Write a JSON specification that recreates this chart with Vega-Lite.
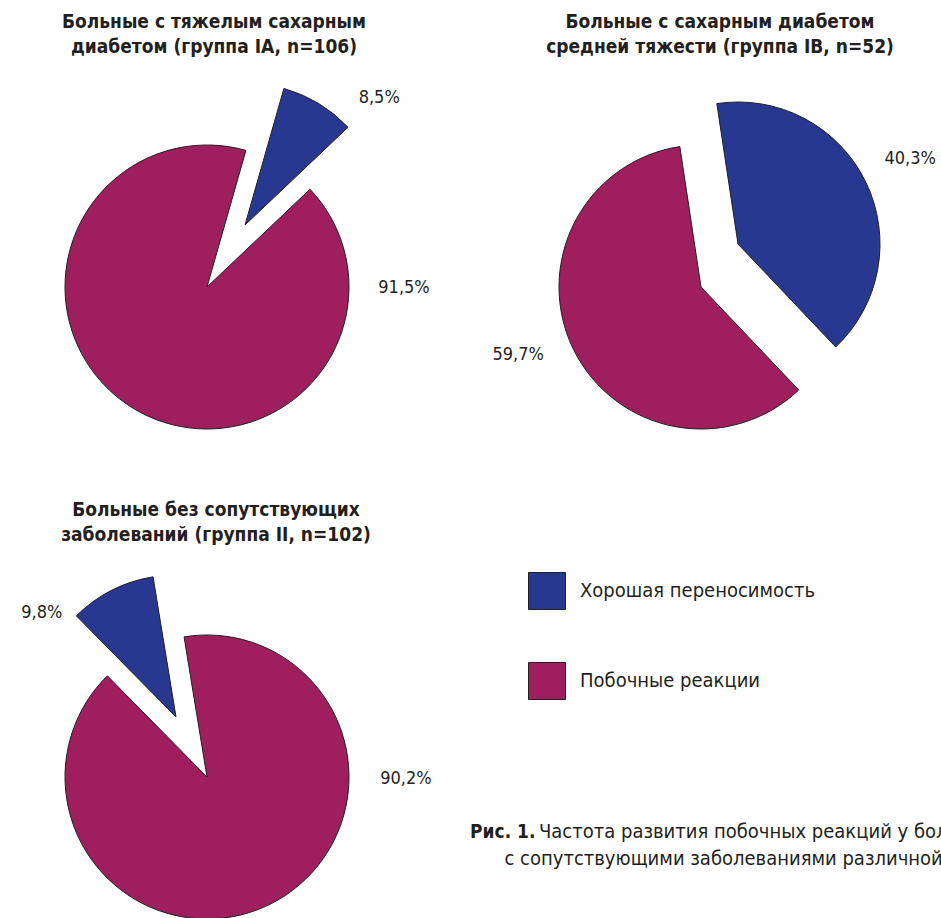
{
  "$schema": "https://vega.github.io/schema/vega-lite/v6.json",
  "padding": {"top": 13, "left": 0, "right": 0, "bottom": 0},
  "spacing": 10,
  "data": {"values": [
    {"group": "IA", "cat": "Хорошая переносимость", "value": 8.5},
    {"group": "IA", "cat": "Побочные реакции", "value": 91.5},
    {"group": "IB", "cat": "Хорошая переносимость", "value": 40.3},
    {"group": "IB", "cat": "Побочные реакции", "value": 59.7},
    {"group": "II", "cat": "Хорошая переносимость", "value": 9.8},
    {"group": "II", "cat": "Побочные реакции", "value": 90.2}
  ]},
  "vconcat": [
    {
      "spacing": 31,
      "hconcat": [
        {
          "width": 414, "height": 406,
          "title": {"text": ["Больные с тяжелым сахарным", "диабетом (группа IA, n=106)"], "dx": 7, "offset": 27},
          "transform": [
            {"filter": "datum.group === 'IA'"},
            {"stack": "value", "groupby": [], "sort": [{"field": "cat", "order": "ascending"}], "as": ["v0", "v1"]}
          ],
          "encoding": {
            "theta": {"field": "v0", "type": "quantitative", "scale": {"domain": [0, 100], "range": [0.8116, 7.0948]}}
          },
          "layer": [
            {
              "transform": [{"filter": "datum.cat === 'Побочные реакции'"}],
              "mark": {"type": "arc", "radius": 142, "stroke": "#231f20", "strokeWidth": 1},
              "encoding": {"theta2": {"field": "v1"}, "color": {"field": "cat", "type": "nominal", "scale": {"domain": ["Хорошая переносимость", "Побочные реакции"], "range": ["#283891", "#9f1e5d"]}, "legend": {"orient": "none", "legendX": 528, "legendY": 488, "title": null, "symbolType": "square", "symbolSize": 1369, "symbolStrokeColor": "#231f20", "symbolStrokeWidth": 1, "symbolOpacity": 1, "labelFontSize": 20, "labelFont": "DejaVu Sans Condensed", "labelColor": "#231f20", "labelOffset": 14, "rowPadding": 48, "padding": 0, "labelLimit": 400, "direction": "vertical"}}}
            },
            {
              "transform": [{"filter": "datum.cat === 'Хорошая переносимость'"}],
              "mark": {"type": "arc", "radius": 142, "stroke": "#231f20", "strokeWidth": 1, "xOffset": 38, "yOffset": -62},
              "encoding": {"theta2": {"field": "v1"}, "color": {"field": "cat", "type": "nominal"}}
            },
            {
              "transform": [{"filter": "datum.cat === 'Побочные реакции'"}],
              "mark": {"type": "text", "radius": 197, "thetaOffset": 0.764},
              "encoding": {"text": {"field": "value", "type": "quantitative", "format": "$.1f"}}
            },
            {
              "transform": [{"filter": "datum.cat === 'Хорошая переносимость'"}],
              "mark": {"type": "text", "radius": 185, "xOffset": 38, "yOffset": -62},
              "encoding": {"theta": {"field": "v1", "type": "quantitative"}, "text": {"field": "value", "type": "quantitative", "format": "$.1f"}}
            }
          ]
        },
        {
          "width": 480, "height": 406,
          "title": {"text": ["Больные с сахарным диабетом", "средней тяжести (группа IB, n=52)"], "dx": 19, "offset": 27},
          "transform": [
            {"filter": "datum.group === 'IB'"},
            {"stack": "value", "groupby": [], "sort": [{"field": "cat", "order": "ascending"}], "as": ["v0", "v1"]}
          ],
          "encoding": {
            "theta": {"field": "v0", "type": "quantitative", "scale": {"domain": [0, 100], "range": [2.3824, 8.6656]}}
          },
          "layer": [
            {
              "transform": [{"filter": "datum.cat === 'Побочные реакции'"}],
              "mark": {"type": "arc", "radius": 142, "stroke": "#231f20", "strokeWidth": 1},
              "encoding": {"theta2": {"field": "v1"}, "color": {"field": "cat", "type": "nominal"}}
            },
            {
              "transform": [{"filter": "datum.cat === 'Хорошая переносимость'"}],
              "mark": {"type": "arc", "radius": 142, "stroke": "#231f20", "strokeWidth": 1, "xOffset": 37, "yOffset": -43},
              "encoding": {"theta2": {"field": "v1"}, "color": {"field": "cat", "type": "nominal"}}
            },
            {
              "transform": [{"filter": "datum.cat === 'Побочные реакции'"}],
              "mark": {"type": "text", "radius": 195, "thetaOffset": 1.974},
              "encoding": {"text": {"field": "value", "type": "quantitative", "format": "$.1f"}}
            },
            {
              "transform": [{"filter": "datum.cat === 'Хорошая переносимость'"}],
              "mark": {"type": "text", "radius": 192, "thetaOffset": 1.262, "xOffset": 37, "yOffset": -43},
              "encoding": {"text": {"field": "value", "type": "quantitative", "format": "$.1f"}}
            }
          ]
        }
      ]
    },
    {
      "spacing": 29,
      "hconcat": [
        {
          "width": 414, "height": 284,
          "title": {"text": ["Больные без сопутствующих", "заболеваний (группа II, n=102)"], "dx": 9, "offset": 30},
          "transform": [
            {"filter": "datum.group === 'II'"},
            {"stack": "value", "groupby": [], "sort": [{"field": "cat", "order": "ascending"}], "as": ["v0", "v1"]}
          ],
          "encoding": {
            "theta": {"field": "v0", "type": "quantitative", "scale": {"domain": [0, 100], "range": [-0.1623, 6.1209]}}
          },
          "layer": [
            {
              "transform": [{"filter": "datum.cat === 'Побочные реакции'"}],
              "mark": {"type": "arc", "radius": 142, "stroke": "#231f20", "strokeWidth": 1},
              "encoding": {"theta2": {"field": "v1"}, "color": {"field": "cat", "type": "nominal"}}
            },
            {
              "transform": [{"filter": "datum.cat === 'Хорошая переносимость'"}],
              "mark": {"type": "arc", "radius": 142, "stroke": "#231f20", "strokeWidth": 1, "xOffset": -31, "yOffset": -60},
              "encoding": {"theta2": {"field": "v1"}, "color": {"field": "cat", "type": "nominal"}}
            },
            {
              "transform": [{"filter": "datum.cat === 'Побочные реакции'"}],
              "mark": {"type": "text", "radius": 199, "thetaOffset": 1.744},
              "encoding": {"text": {"field": "value", "type": "quantitative", "format": "$.1f"}}
            },
            {
              "transform": [{"filter": "datum.cat === 'Хорошая переносимость'"}],
              "mark": {"type": "text", "radius": 170, "thetaOffset": -0.131, "xOffset": -31, "yOffset": -60},
              "encoding": {"text": {"field": "value", "type": "quantitative", "format": "$.1f"}}
            }
          ]
        },
        {
          "width": 480, "height": 284,
          "data": {"values": [
            {"line": "1", "seg": "a", "text": "Рис. 1."},
            {"line": "1", "seg": "b", "text": "Частота развития побочных реакций у больных"},
            {"line": "2", "seg": "c", "text": "с сопутствующими заболеваниями различной"}
          ]},
          "encoding": {
            "x": {"field": "seg", "type": "nominal", "axis": null, "scale": {"type": "point", "domain": ["a", "c", "b"], "range": [9, 78], "padding": 0}},
            "y": {"field": "line", "type": "ordinal", "axis": null, "scale": {"type": "point", "domain": ["1", "2"], "range": [197, 224], "padding": 0}},
            "text": {"field": "text", "type": "nominal"}
          },
          "layer": [
            {
              "transform": [{"filter": "datum.seg === 'a'"}],
              "mark": {"type": "text", "align": "left", "fontWeight": "bold", "fontSize": 19, "clip": true}
            },
            {
              "transform": [{"filter": "datum.seg !== 'a'"}],
              "mark": {"type": "text", "align": "left", "fontSize": 20, "clip": true}
            }
          ]
        }
      ]
    }
  ],
  "config": {
    "view": {"stroke": null},
    "font": "DejaVu Sans Condensed",
    "locale": {"number": {"decimal": ",", "thousands": " ", "grouping": [3], "currency": ["", "%"]}},
    "title": {"font": "DejaVu Sans Condensed", "fontSize": 19, "fontWeight": "bold", "color": "#231f20", "lineHeight": 25, "anchor": "middle"},
    "text": {"font": "DejaVu Sans Condensed", "fontSize": 18, "color": "#231f20", "baseline": "middle"}
  }
}
